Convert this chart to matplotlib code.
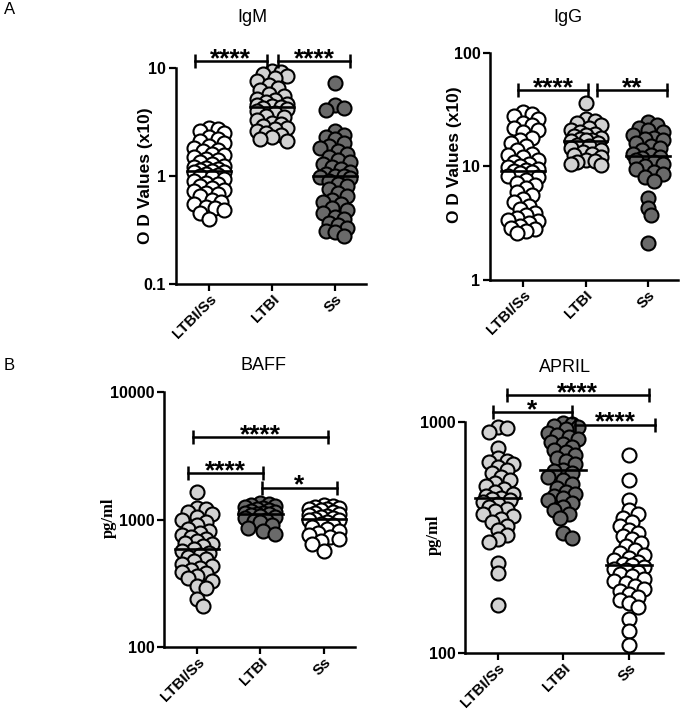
import numpy as np
import matplotlib
matplotlib.use('Agg')
import matplotlib.pyplot as plt
from matplotlib.ticker import NullLocator

plt.rcParams['font.family'] = ['Liberation Sans', 'DejaVu Sans']

############################# DATA ###################################
groups = ['LTBI/Ss', 'LTBI', 'Ss']

igm_ltbi_ss = [2.8, 2.7, 2.6, 2.5, 2.3, 2.2, 2.1, 2.0, 1.9, 1.8, 1.75, 1.7, 1.6, 1.55,
               1.5, 1.45, 1.4, 1.35, 1.3, 1.25, 1.2, 1.18, 1.15, 1.13, 1.12, 1.1, 1.08,
               1.05, 1.02, 1.0, 0.97, 0.94, 0.9, 0.87, 0.84, 0.8, 0.77, 0.74, 0.72, 0.7,
               0.68, 0.65, 0.6, 0.57, 0.55, 0.52, 0.5, 0.48, 0.45, 0.4]
igm_ltbi = [9.4, 9.2, 8.8, 8.5, 8.0, 7.5, 7.0, 6.5, 6.2, 5.8, 5.5, 5.2, 5.0, 4.8, 4.6,
            4.5, 4.4, 4.35, 4.3, 4.2, 4.0, 3.8, 3.6, 3.5, 3.3, 3.1, 3.0, 2.9, 2.8, 2.7,
            2.6, 2.5, 2.4, 2.3, 2.2, 2.1]
igm_ss = [7.3, 4.5, 4.3, 4.1, 2.6, 2.4, 2.3, 2.2, 2.0, 1.9, 1.8, 1.7, 1.6, 1.5, 1.4,
          1.35, 1.3, 1.2, 1.15, 1.1, 1.05, 1.0, 1.0, 0.98, 0.95, 0.9, 0.85, 0.8, 0.75,
          0.7, 0.65, 0.6, 0.58, 0.55, 0.5, 0.48, 0.45, 0.42, 0.4, 0.37, 0.35, 0.33,
          0.31, 0.3, 0.28]

igg_ltbi_ss = [30, 29, 28, 26, 24, 23, 22, 21, 20, 18, 17, 16, 15, 14, 13, 12.5, 12,
               11.5, 11, 10.5, 10, 9.8, 9.5, 9.3, 9.1, 9.0, 8.7, 8.3, 8.0, 7.6, 7.2,
               6.8, 6.4, 6.0, 5.6, 5.2, 4.9, 4.5, 4.2, 3.9, 3.7, 3.5, 3.4, 3.3, 3.2,
               3.0, 2.9, 2.8, 2.7, 2.6]
igg_ltbi = [36, 26, 25, 24, 23, 22, 21, 20, 19.5, 19, 18.5, 18, 17.5, 17, 17, 16.8,
            16, 15.5, 15, 14.5, 14, 13.5, 13, 12.5, 12, 11.5, 11.2, 11, 10.6, 10.3]
igg_ss = [24.5, 23, 22, 21, 20, 19, 18, 17.5, 17, 16, 15, 14.5, 14, 13, 12.5, 12, 11.8,
          11.5, 11, 10.5, 10, 9.5, 9, 8.5, 8, 7.5, 5.3, 4.35, 3.7, 2.1]

baff_ltbi_ss = [1630, 1240, 1200, 1150, 1100, 1050, 1000, 950, 900, 850, 820, 790, 760,
                730, 700, 680, 660, 640, 620, 585, 570, 550, 530, 510, 490, 470, 450,
                430, 420, 400, 390, 380, 360, 350, 330, 300, 288, 240, 211]
baff_ltbi = [1360, 1330, 1300, 1280, 1250, 1230, 1200, 1180, 1160, 1140, 1130, 1120,
             1115, 1100, 1080, 1060, 1040, 1020, 1000, 980, 950, 900, 860, 820, 776]
baff_ss = [1290, 1270, 1250, 1230, 1210, 1200, 1180, 1150, 1120, 1100, 1080, 1060, 1040,
           1020, 1010, 1000, 990, 960, 930, 900, 870, 840, 810, 790, 760, 730, 700, 680,
           640, 571]

april_ltbi_ss = [950, 940, 905, 772, 700, 680, 670, 660, 640, 620, 600, 580, 560, 545,
                 530, 515, 500, 490, 480, 470, 465, 460, 450, 440, 430, 420, 410, 400,
                 390, 380, 370, 355, 340, 325, 310, 303, 245, 222, 161]
april_ltbi = [990, 980, 960, 950, 930, 900, 880, 860, 840, 820, 800, 780, 760, 740, 720,
              700, 680, 660, 620, 612, 600, 580, 560, 540, 520, 500, 490, 480, 470, 460,
              445, 430, 415, 400, 384, 331, 315]
april_ss = [720, 561, 460, 416, 400, 385, 370, 355, 340, 330, 320, 310, 300, 290, 280,
            272, 265, 258, 252, 247, 243, 240, 236, 232, 228, 224, 220, 215, 210, 205,
            200, 195, 190, 185, 180, 175, 170, 165, 158, 140, 124, 108]

WHITE = '#ffffff'
LIGHT = '#d2d2d2'
DARK = '#6a6a6a'


def swarm(ax, xc, vals, diam=14.0, step=3.0, cap=15.0, min_frac=0.6):
    # greedy beeswarm in pixel space
    vals = np.asarray(vals, float)
    pts = ax.transData.transform(np.column_stack([np.full(len(vals), xc), vals]))
    ypx = pts[:, 1]
    x0 = pts[0, 0]
    cands = [0.0]
    k = 1
    while k * step <= cap:
        cands += [k * step, -k * step]
        k += 1
    offs = np.zeros(len(vals))
    placed = []
    for i in np.argsort(-vals):
        best, bestd = 0.0, -1.0
        for c in cands:
            d = min((np.hypot(c - ox, ypx[i] - oy) for ox, oy in placed), default=1e9)
            if d >= min_frac * diam:
                best = c
                break
            if d > bestd:
                best, bestd = c, d
        offs[i] = best
        placed.append((best, ypx[i]))
    return ax.transData.inverted().transform(np.column_stack([x0 + offs, ypx]))[:, 0]


def panel(rect, data, colors, ylim, yticks, ylabel, yl_coords, yl_font, brackets, xlim):
    ax = fig.add_axes(rect)
    ax.set_yscale('log')
    ax.set_ylim(*ylim)
    ax.set_xlim(*xlim)
    ax.yaxis.set_minor_locator(NullLocator())
    ax.set_yticks(yticks)
    ax.set_yticklabels([str(t) for t in yticks], fontweight='bold', fontsize=11.5)
    ax.set_xticks(range(len(groups)))
    ax.set_xticklabels(groups, rotation=45, ha='right', rotation_mode='anchor',
                       fontweight='bold', fontsize=11)
    for s in ['top', 'right']:
        ax.spines[s].set_visible(False)
    for s in ['left', 'bottom']:
        ax.spines[s].set_linewidth(1.8)
    ax.tick_params(length=5, width=1.6, pad=2)
    ax.tick_params(axis='x', pad=1)
    ax.set_ylabel(ylabel, fontweight='bold', **yl_font)
    ax.yaxis.set_label_coords(*yl_coords)

    for i, (vals, col) in enumerate(zip(data, colors)):
        xs = swarm(ax, i, vals)
        ax.scatter(xs, vals, s=102, facecolor=col, edgecolor='black', linewidths=1.5,
                   zorder=3, clip_on=False)
        med = np.median(vals)
        ax.plot([i - 0.35, i + 0.35], [med, med], color='black', lw=1.9, zorder=4)

    for x1, x2, y, stars in brackets:
        ax.plot([x1, x2], [y, y], color='black', lw=1.8, marker='|', markersize=10,
                mew=1.8, clip_on=False, zorder=5)
        ax.annotate(stars, ((x1 + x2) / 2, y), xytext=(0, -3.5), textcoords='offset points',
                    ha='center', va='baseline', fontsize=19, fontweight='bold',
                    annotation_clip=False)
    return ax


fig = plt.figure(figsize=(6.82, 7.11), dpi=100)

sans_lab = {'fontsize': 12.5}
serif_lab = {'fontsize': 12, 'family': 'Liberation Serif'}

panel([0.258, 0.6006, 0.279, 0.3038], [igm_ltbi_ss, igm_ltbi, igm_ss],
      [WHITE, LIGHT, DARK], (0.1, 10), [0.1, 1, 10], 'O D Values (x10)',
      (-0.12, 0.5), sans_lab, [(-0.23, 0.92, 11.6, '****'), (1.1, 2.24, 11.6, '****')],
      (-0.53, 2.5))
panel([0.7185, 0.6062, 0.2757, 0.3193], [igg_ltbi_ss, igg_ltbi, igg_ss],
      [WHITE, LIGHT, DARK], (1, 100), [1, 10, 100], 'O D Values (x10)',
      (-0.148, 0.55), sans_lab, [(-0.08, 1.04, 47, '****'), (1.18, 2.3, 47, '**')],
      (-0.53, 2.48))
panel([0.2405, 0.09, 0.28, 0.3586], [baff_ltbi_ss, baff_ltbi, baff_ss],
      [LIGHT, DARK, WHITE], (100, 10000), [100, 1000, 10000], 'pg/ml',
      (-0.246, 0.506), serif_lab,
      [(-0.06, 2.06, 4400, '****'), (-0.14, 1.04, 2300, '****'), (1.02, 2.2, 1780, '*')],
      (-0.52, 2.49))
panel([0.6818, 0.0816, 0.2903, 0.3249], [april_ltbi_ss, april_ltbi, april_ss],
      [LIGHT, DARK, WHITE], (100, 1000), [100, 1000], 'pg/ml',
      (-0.116, 0.51), serif_lab,
      [(0.14, 2.3, 1309, '****'), (-0.08, 1.13, 1105, '*'), (1.18, 2.4, 971, '****')],
      (-0.5, 2.52))

# titles and panel letters
fig.text(252 / 682, 1 - 17 / 711, 'IgM', ha='center', va='center', fontsize=13)
fig.text(568 / 682, 1 - 17 / 711, 'IgG', ha='center', va='center', fontsize=13)
fig.text(263 / 682, 1 - 365 / 711, 'BAFF', ha='center', va='center', fontsize=13)
fig.text(565 / 682, 1 - 367 / 711, 'APRIL', ha='center', va='center', fontsize=13)
fig.text(4 / 682, 1 - 9 / 711, 'A', ha='left', va='center', fontsize=12)
fig.text(4 / 682, 1 - 365 / 711, 'B', ha='left', va='center', fontsize=12)

fig.savefig('out.png', dpi=100)
